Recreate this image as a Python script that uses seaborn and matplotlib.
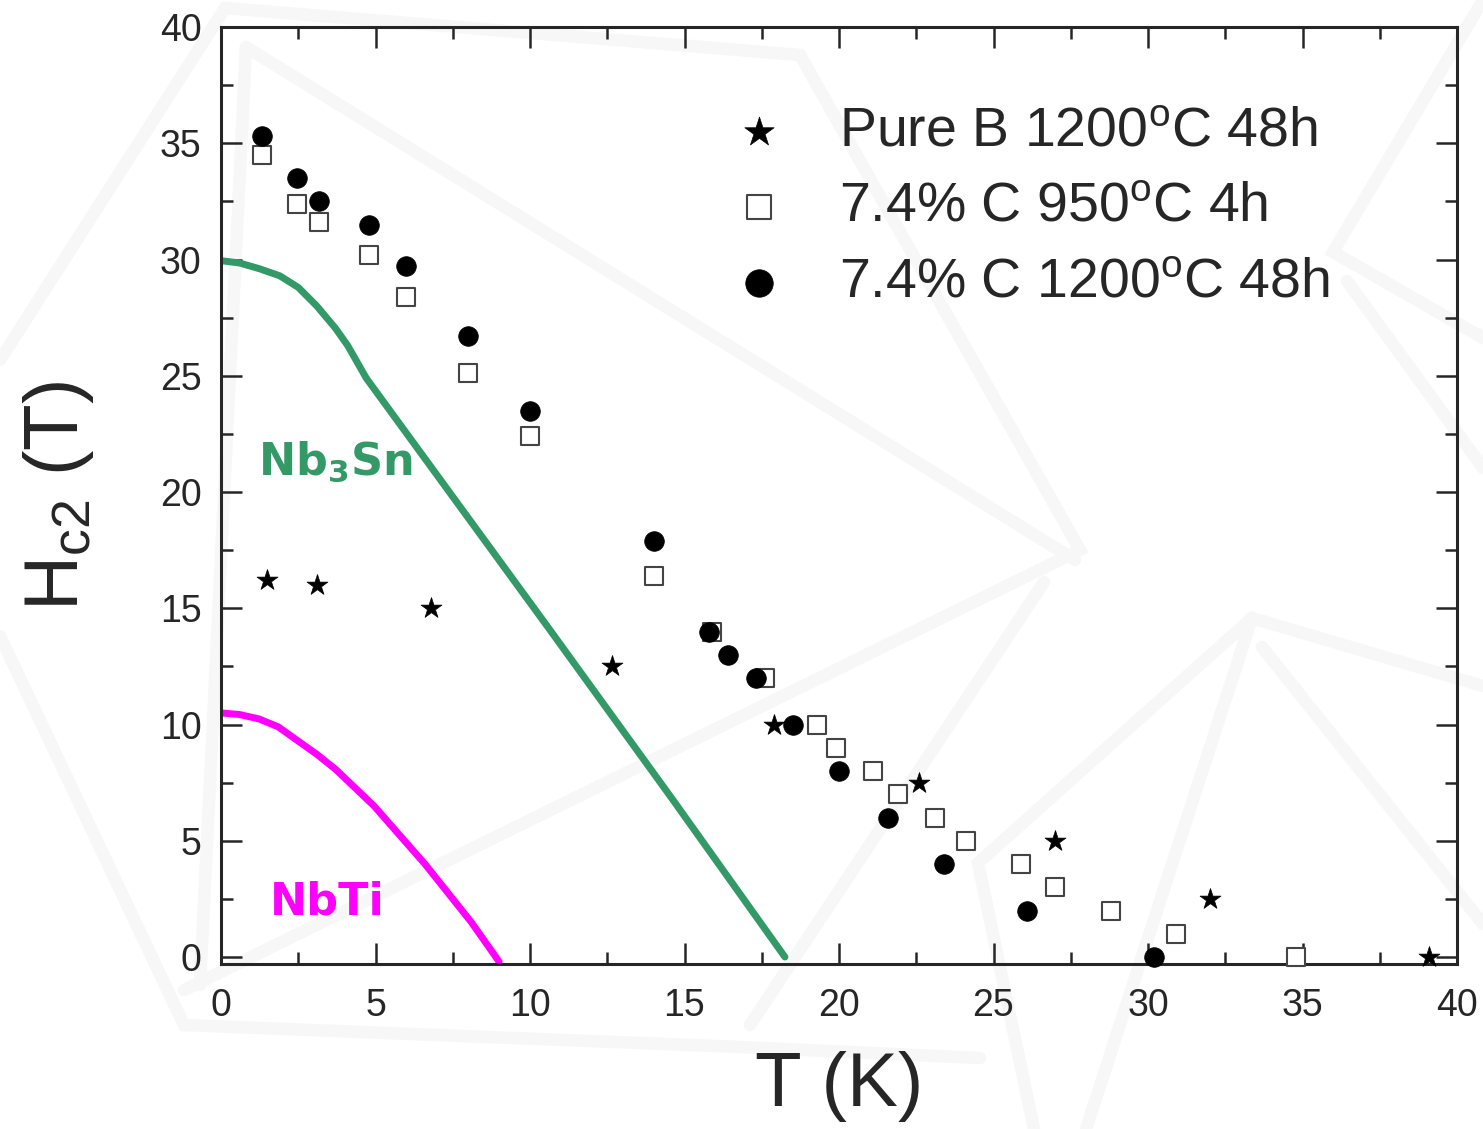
import seaborn as sns
import matplotlib.pyplot as plt
from matplotlib.lines import Line2D
from matplotlib.ticker import MultipleLocator

# Hc2(T) data
star_t = [1.5, 3.1, 6.8, 12.65, 17.9, 22.6, 27.0, 32.0, 39.1]
star_h = [16.2, 16.0, 15.0, 12.5, 10.0, 7.5, 5.0, 2.5, 0.0]

square_t = [1.33, 2.46, 3.17, 4.79, 5.99, 8.0, 10.0, 14.0, 15.9, 17.6,
            19.3, 19.9, 21.1, 21.9, 23.1, 24.1, 25.9, 27.0, 28.8, 30.9, 34.8]
square_h = [34.5, 32.4, 31.6, 30.2, 28.4, 25.1, 22.4, 16.4, 14.0, 12.0,
            10.0, 9.0, 8.0, 7.0, 6.0, 5.0, 4.0, 3.0, 2.0, 1.0, 0.0]

circle_t = [1.33, 2.46, 3.17, 4.79, 5.99, 8.0, 10.0, 14.0, 15.8, 16.4,
            17.3, 18.5, 20.0, 21.6, 23.4, 26.1, 30.2]
circle_h = [35.3, 33.5, 32.5, 31.5, 29.7, 26.7, 23.5, 17.9, 14.0, 13.0,
            12.0, 10.0, 8.0, 6.0, 4.0, 2.0, 0.0]

nb3sn_t = [0, 0.6, 1.25, 1.9, 2.5, 3.1, 3.7, 4.1, 4.7, 10.65, 14.63, 18.25]
nb3sn_h = [29.95, 29.85, 29.6, 29.3, 28.8, 28.0, 27.05, 26.3, 24.9, 14.06, 6.75, 0.0]

nbti_t = [0, 0.6, 1.23, 1.85, 2.4, 3.1, 3.72, 4.2, 4.95, 5.86, 6.6, 7.2, 8.1, 9.0]
nbti_h = [10.5, 10.43, 10.24, 9.9, 9.38, 8.72, 8.06, 7.45, 6.5, 5.12, 4.0, 3.0, 1.5, -0.2]

labels = ['Pure B 1200$^{o}$C 48h', '7.4% C 950$^{o}$C 4h', '7.4% C 1200$^{o}$C 48h']

sns.set_style("ticks")
plt.rcParams['font.family'] = ['Liberation Sans', 'DejaVu Sans']
plt.rcParams['mathtext.default'] = 'regular'

W, H = 1483, 1129
fig = plt.figure(figsize=(W / 100, H / 100), dpi=100)

# faint watermark lines in the background (pixel coords of the picture)
wm = [
    [(0, 360), (225, 8), (800, 55), (1080, 550), (184, 990)],
    [(246, 47), (1075, 560)],
    [(246, 47), (200, 985)],
    [(0, 636), (184, 1025), (741, 1047), (980, 1058)],
    [(1044, 582), (750, 1025)],
    [(1483, 686), (1252, 618), (978, 863), (1034, 1129)],
    [(1252, 618), (1086, 1129)],
    [(1262, 647), (1483, 924)],
    [(1483, 0), (1333, 252), (1483, 338)],
    [(1347, 281), (1483, 468)],
]
for pts in wm:
    xs = [p[0] / W for p in pts]
    ys = [1 - p[1] / H for p in pts]
    fig.add_artist(Line2D(xs, ys, color='#f7f7f7', lw=9, zorder=0,
                          solid_joinstyle='miter'))

ax = fig.add_axes([221 / W, 1 - 964 / H, 1236 / W, 937 / H])
ax.patch.set_alpha(0)

sns.lineplot(x=nb3sn_t, y=nb3sn_h, color='#339966', linewidth=5, sort=False,
             estimator=None, ax=ax)
sns.lineplot(x=nbti_t, y=nbti_h, color='#ff00ff', linewidth=5, sort=False,
             estimator=None, ax=ax)

sns.scatterplot(x=star_t, y=star_h, marker='*', s=250, color='black',
                edgecolor='black', linewidth=0.5, label=labels[0], ax=ax,
                clip_on=False, zorder=3)
sns.scatterplot(x=square_t, y=square_h, marker='s', s=150, color='white',
                edgecolor='#444444', linewidth=1.5, label=labels[1], ax=ax,
                clip_on=False, zorder=4)
sns.scatterplot(x=circle_t, y=circle_h, marker='o', s=200, color='black',
                edgecolor='black', linewidth=0.5, label=labels[2], ax=ax,
                clip_on=False, zorder=5)

ax.text(1.2, 20.75, 'Nb$_3$Sn', color='#339966', fontsize=32, fontweight='bold',
        family='DejaVu Sans', va='baseline', ha='left')
ax.text(1.59, 1.85, 'NbTi', color='#ff00ff', fontsize=32, fontweight='bold',
        family='DejaVu Sans', va='baseline', ha='left')

ax.set_xlim(0, 40)
ax.set_ylim(-0.3, 40)
ax.xaxis.set_major_locator(MultipleLocator(5))
ax.xaxis.set_minor_locator(MultipleLocator(2.5))
ax.yaxis.set_major_locator(MultipleLocator(5))
ax.yaxis.set_minor_locator(MultipleLocator(2.5))
ax.tick_params(which='both', direction='in', top=True, right=True,
               labelsize=27, width=1.8, pad=14)
ax.tick_params(axis='x', pad=17)
ax.tick_params(which='major', length=15)
ax.tick_params(which='minor', length=8.5)
for sp in ax.spines.values():
    sp.set_linewidth(2.2)

ax.set_xlabel('T (K)', fontsize=55, labelpad=20)
ax.set_ylabel('H$_{c2}$ (T)', fontsize=55, labelpad=46)

ax.legend(loc='upper left', bbox_to_anchor=(0.415, 0.915), frameon=False,
          fontsize=40, markerscale=1.4, handlelength=0.9, handletextpad=1.0,
          labelspacing=0.42, borderpad=0, borderaxespad=0)

plt.savefig("out.png", dpi=100)
